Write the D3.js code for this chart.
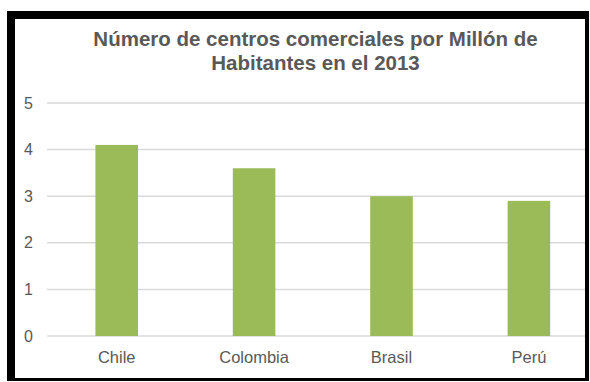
<!DOCTYPE html>
<html>
<head>
<meta charset="utf-8">
<script src="https://cdn.jsdelivr.net/npm/d3@7"></script>
<style>
  body { margin: 0; background: #fff; }
  text { font-family: "Liberation Sans", Arial, sans-serif; }
</style>
</head>
<body>
<div id="chart"></div>
<script>
// values
const countries = ["Chile", "Colombia", "Brasil", "Perú"];
const centros = [4.1, 3.6, 3.0, 2.9];
const yTicks = [0, 1, 2, 3, 4, 5];
const titleLines = ["Número de centros comerciales por Millón de", "Habitantes en el 2013"];

const width = 590, height = 382;

const svg = d3.select("#chart")
  .append("svg")
  .attr("width", width)
  .attr("height", height);

// frame: heavy black on left/top, thin on right/bottom
svg.append("rect")
  .attr("x", 7).attr("y", 11)
  .attr("width", 582).attr("height", 370)
  .attr("fill", "#000");
svg.append("rect")
  .attr("x", 15).attr("y", 19)
  .attr("width", 570).attr("height", 359)
  .attr("fill", "#fff");

svg.append("clipPath").attr("id", "inner")
  .append("rect")
  .attr("x", 15).attr("y", 19)
  .attr("width", 570).attr("height", 359);

const g = svg.append("g").attr("clip-path", "url(#inner)");

const x = d3.scaleBand()
  .domain(countries)
  .range([48, 597.6])
  .paddingInner(0.69)
  .paddingOuter(0.345);

const y = d3.scaleLinear()
  .domain([0, 5])
  .range([336, 103]);

// gridlines
g.selectAll("line.grid")
  .data(yTicks)
  .enter()
  .append("line")
  .attr("class", "grid")
  .attr("x1", 47)
  .attr("x2", 600)
  .attr("y1", d => y(d))
  .attr("y2", d => y(d))
  .attr("stroke", "#d9d9d9")
  .attr("stroke-width", 1.5);

// bars
g.selectAll("rect.bar")
  .data(countries)
  .enter()
  .append("rect")
  .attr("class", "bar")
  .attr("x", d => x(d))
  .attr("width", x.bandwidth())
  .attr("y", (d, i) => y(centros[i]))
  .attr("height", (d, i) => y(0) - y(centros[i]))
  .attr("fill", "#9bbb59");

// y tick labels
svg.selectAll("text.ytick")
  .data(yTicks)
  .enter()
  .append("text")
  .attr("class", "ytick")
  .attr("x", 33)
  .attr("y", d => y(d))
  .attr("dy", "0.35em")
  .attr("text-anchor", "end")
  .attr("fill", "#595959")
  .style("font-size", "16px")
  .text(d => d);

// category labels
svg.selectAll("text.xtick")
  .data(countries)
  .enter()
  .append("text")
  .attr("class", "xtick")
  .attr("x", d => x(d) + x.bandwidth() / 2)
  .attr("y", 363)
  .attr("text-anchor", "middle")
  .attr("fill", "#595959")
  .style("font-size", "16.5px")
  .text(d => d);

// title
svg.selectAll("text.title")
  .data(titleLines)
  .enter()
  .append("text")
  .attr("class", "title")
  .attr("x", 315.5)
  .attr("y", (d, i) => 46 + i * 23.5)
  .attr("text-anchor", "middle")
  .attr("fill", "#595959")
  .style("font-size", "20.5px")
  .style("font-weight", "bold")
  .text(d => d);
</script>
</body>
</html>
